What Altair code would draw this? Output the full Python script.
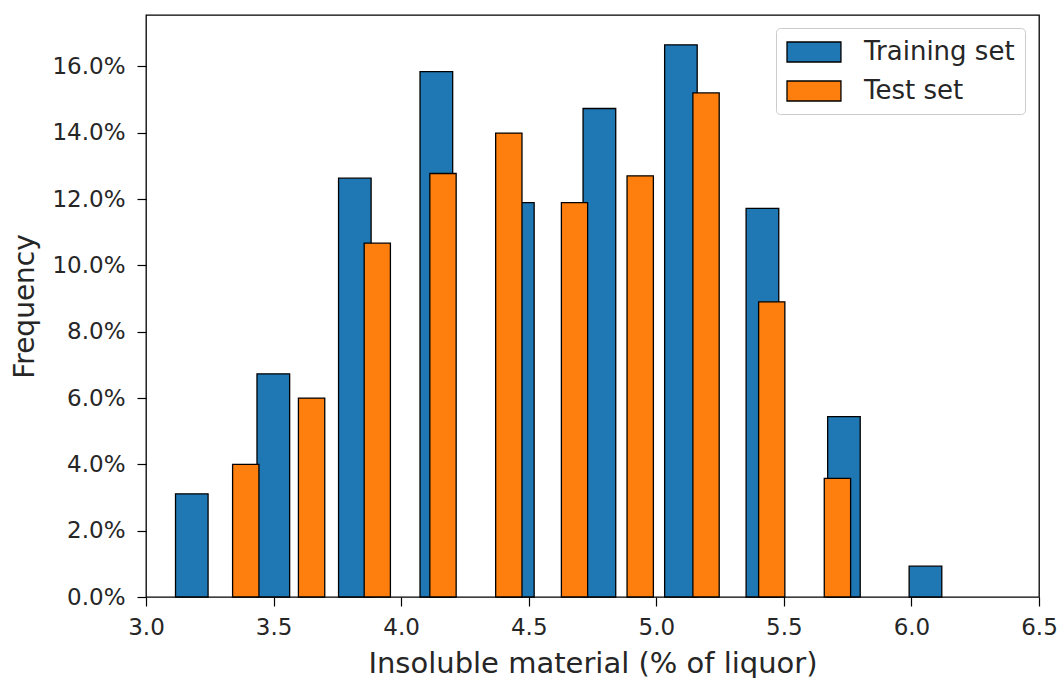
import altair as alt
import pandas as pd

# Histogram bin edges (insoluble material, % of liquor)
train_edges = [3.020, 3.339, 3.659, 3.978, 4.298, 4.617, 4.937, 5.256, 5.576, 5.895, 6.215]
test_edges = [3.262, 3.520, 3.778, 4.035, 4.293, 4.551, 4.808, 5.066, 5.324, 5.581, 5.839]

# Relative frequencies (percent)
train_freq = [3.11, 6.73, 12.63, 15.84, 11.89, 14.73, 16.65, 11.72, 5.44, 0.93]
test_freq = [4.00, 6.00, 10.67, 12.77, 13.99, 11.89, 12.70, 15.20, 8.90, 3.58]

series_names = ["Training set", "Test set"]
x_ticks = [3.0, 3.5, 4.0, 4.5, 5.0, 5.5, 6.0, 6.5]
y_ticks = [0.0, 0.02, 0.04, 0.06, 0.08, 0.10, 0.12, 0.14, 0.16]

RWIDTH = 0.4  # relative bar width within each bin

rows = []
for order, (name, edges, freq) in enumerate(
    [(series_names[0], train_edges, train_freq), (series_names[1], test_edges, test_freq)]
):
    for i, f in enumerate(freq):
        lo, hi = edges[i], edges[i + 1]
        c = (lo + hi) / 2
        w = (hi - lo) * RWIDTH
        rows.append({"set": name, "order": order, "x0": c - w / 2, "x1": c + w / 2,
                     "freq": f / 100, "base": 0.0})
df = pd.DataFrame(rows)

FONT = "DejaVu Sans"

chart = (
    alt.Chart(df)
    .mark_bar(stroke="black", strokeWidth=1.3, opacity=1)
    .encode(
        x=alt.X(
            "x0:Q",
            scale=alt.Scale(domain=[3.0, 6.5], nice=False, zero=False, padding=0),
            axis=alt.Axis(
                values=x_ticks,
                format=".1f",
                title="Insoluble material (% of liquor)",
                grid=False,
                labelFlush=False,
                labelPadding=10,
                titlePadding=10,
                titleFontSize=29,
            ),
        ),
        x2="x1:Q",
        y=alt.Y(
            "freq:Q",
            scale=alt.Scale(domain=[0, 0.1755], nice=False, padding=0),
            axis=alt.Axis(values=y_ticks, format=".1%", title="Frequency", grid=False,
                          labelPadding=12, titlePadding=12),
        ),
        y2="base:Q",
        color=alt.Color(
            "set:N",
            scale=alt.Scale(domain=series_names, range=["#1f77b4", "#ff7f0e"]),
            legend=alt.Legend(
                title=None,
                orient="none",
                legendX=630,
                legendY=13,
                symbolType="M-1,-0.77H3.15V0.77H-1Z",
                symbolSize=676,
                symbolStrokeColor="black",
                symbolStrokeWidth=1.3,
                symbolOpacity=1,
                labelFont=FONT,
                labelFontSize=26,
                labelColor="#262626",
                labelOffset=50,
                rowPadding=12,
                padding=10,
                fillColor="white",
                strokeColor="#cccccc",
                cornerRadius=4,
            ),
        ),
        order=alt.Order("order:Q"),
    )
    .properties(
        width=893,
        height=582,
        autosize=alt.AutoSizeParams(type="none"),
        padding={"left": 146, "top": 15, "right": 20, "bottom": 81},
    )
    .configure_view(stroke="black", strokeWidth=1.3)
    .configure_axis(
        domain=False,
        tickColor="black",
        tickSize=9,
        tickWidth=1.2,
        labelFont=FONT,
        labelFontSize=23,
        labelColor="#262626",
        titleFont=FONT,
        titleFontSize=28,
        titleFontWeight="normal",
        titleColor="#262626",
    )
)

chart.save("out.html", embed_options={"renderer": "svg", "actions": False})
